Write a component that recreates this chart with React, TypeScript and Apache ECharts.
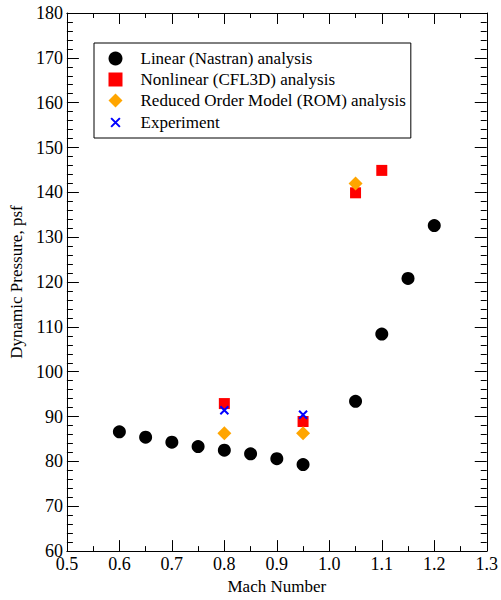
import React, { useEffect, useRef } from "react";
import * as echarts from "echarts";

const linearMach = [0.6, 0.65, 0.7, 0.75, 0.8, 0.85, 0.9, 0.95, 1.05, 1.1, 1.15, 1.2];
const linearQ = [86.6, 85.4, 84.3, 83.3, 82.5, 81.7, 80.6, 79.3, 93.4, 108.4, 120.8, 132.6];
const nonlinMach = [0.8, 0.95, 1.05, 1.1];
const nonlinQ = [92.9, 88.9, 139.9, 144.9];
const romMach = [0.8, 0.95, 1.05];
const romQ = [86.3, 86.3, 142.0];
const expMach = [0.8, 0.95];
const expQ = [91.4, 90.4];

const FONT = "Liberation Serif";

const pairs = (xs: number[], ys: number[]) => xs.map((x, i) => [x, ys[i]]);

export default function App() {
  const ref = useRef<HTMLDivElement>(null);
  useEffect(() => {
    if (!ref.current) return;
    const chart = echarts.init(ref.current, undefined, { renderer: "svg" });
    const axisCommonX = {
      type: "value" as const,
      min: 0.5,
      max: 1.3,
      interval: 0.1,
      axisLine: { show: true, lineStyle: { color: "#000", width: 1 } },
      axisTick: { show: true, inside: true, length: 11, lineStyle: { color: "#000" } },
      minorTick: { show: true, splitNumber: 2, length: 5, lineStyle: { color: "#000" } },
      splitLine: { show: false },
      minorSplitLine: { show: false },
    };
    const axisCommonY = {
      type: "value" as const,
      min: 60,
      max: 180,
      interval: 10,
      axisLine: { show: true, lineStyle: { color: "#000", width: 1 } },
      axisTick: { show: true, inside: true, length: 12, lineStyle: { color: "#000" } },
      minorTick: { show: true, splitNumber: 5, length: 6, lineStyle: { color: "#000" } },
      splitLine: { show: false },
      minorSplitLine: { show: false },
    };
    chart.setOption({
      animation: false,
      backgroundColor: "#fff",
      textStyle: { fontFamily: FONT },
      grid: { left: 64, right: 12, top: 13, bottom: 43 },
      xAxis: [
        {
          ...axisCommonX,
          position: "bottom",
          name: "Mach Number",
          nameLocation: "middle",
          nameGap: 23,
          nameTextStyle: { fontFamily: FONT, fontSize: 17, color: "#000" },
          axisLabel: {
            show: true,
            margin: 4,
            fontFamily: FONT,
            fontSize: 18,
            color: "#000",
            formatter: (v: number) => v.toFixed(1),
          },
        },
        { ...axisCommonX, position: "top", axisLabel: { show: false } },
      ],
      yAxis: [
        {
          ...axisCommonY,
          position: "left",
          name: "Dynamic Pressure, psf",
          nameLocation: "middle",
          nameGap: 37,
          nameTextStyle: { fontFamily: FONT, fontSize: 17, color: "#000" },
          axisLabel: {
            show: true,
            margin: 4,
            fontFamily: FONT,
            fontSize: 18,
            color: "#000",
          },
        },
        { ...axisCommonY, position: "right", axisLabel: { show: false } },
      ],
      legend: {
        orient: "vertical",
        left: 94,
        top: 43,
        backgroundColor: "#fff",
        borderColor: "#000",
        borderWidth: 1,
        padding: [7, 5, 6, 12],
        itemGap: 4,
        itemWidth: 14,
        itemHeight: 14,
        textStyle: {
          fontFamily: FONT,
          fontSize: 17,
          lineHeight: 17,
          color: "#000",
          padding: [0, 0, 0, 13],
        },
        data: [
          { name: "Linear (Nastran) analysis" },
          { name: "Nonlinear (CFL3D) analysis" },
          { name: "Reduced Order Model (ROM) analysis" },
          { name: "Experiment", icon: "path://M-3,-3 M0,0 L10,10 M10,0 L0,10 M13,13" },
        ],
      },
      series: [
        {
          name: "Linear (Nastran) analysis",
          type: "scatter",
          symbol: "circle",
          symbolSize: 13,
          itemStyle: { color: "#000", opacity: 1 },
          data: pairs(linearMach, linearQ),
        },
        {
          name: "Nonlinear (CFL3D) analysis",
          type: "scatter",
          symbol: "rect",
          symbolSize: 11,
          itemStyle: { color: "#ff0000", opacity: 1 },
          data: pairs(nonlinMach, nonlinQ),
        },
        {
          name: "Reduced Order Model (ROM) analysis",
          type: "scatter",
          symbol: "diamond",
          symbolSize: [14, 14],
          itemStyle: { color: "#ffa500", opacity: 1 },
          data: pairs(romMach, romQ),
        },
        {
          name: "Experiment",
          type: "scatter",
          symbol: "path://M0,0 L10,10 M10,0 L0,10",
          symbolSize: 8,
          itemStyle: { color: "none", borderColor: "#0000ff", borderWidth: 2, opacity: 1 },
          data: pairs(expMach, expQ),
        },
      ],
    });
    return () => chart.dispose();
  }, []);
  return (
    <div
      ref={ref}
      style={{ position: "absolute", left: 0, top: 0, width: 501, height: 600 }}
    />
  );
}
